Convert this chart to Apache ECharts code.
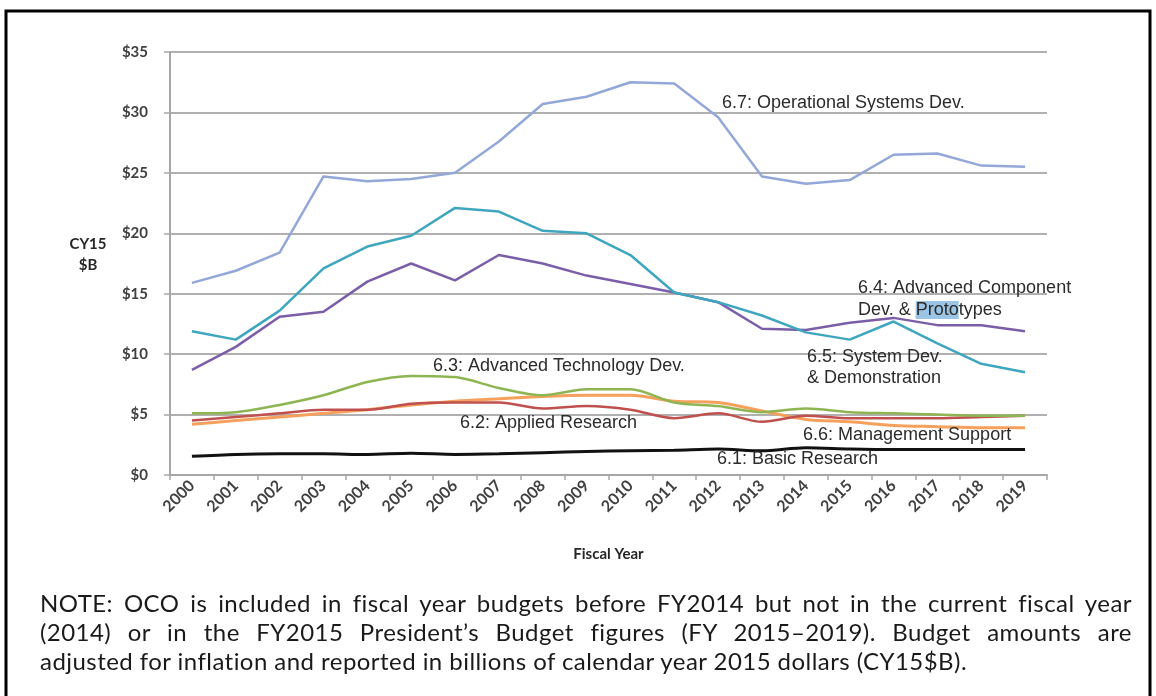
<!DOCTYPE html>
<html>
<head>
<meta charset="utf-8">
<script src="https://cdn.jsdelivr.net/npm/echarts@6/dist/echarts.min.js"></script>
<style>
html,body{margin:0;padding:0;background:#fff;}
#wrap{position:relative;width:1156px;height:696px;overflow:hidden;}
#chart{position:absolute;left:0;top:0;width:1156px;height:696px;}
#note{position:absolute;left:40px;top:588px;width:1092px;font-family:Lato,"Open Sans",sans-serif;font-size:24px;letter-spacing:0.45px;line-height:29px;color:#1a1a1a;}
#note div{white-space:nowrap;}
#note .j{text-align:justify;text-align-last:justify;white-space:normal;}
</style>
</head>
<body>
<div id="wrap">
<div id="chart"></div>
<div id="note">
<div class="j">NOTE: OCO is included in fiscal year budgets before FY2014 but not in the current fiscal year</div>
<div class="j">(2014) or in the FY2015 President’s Budget figures (FY 2015–2019). Budget amounts are</div>
<div>adjusted for inflation and reported in billions of calendar year 2015 dollars (CY15$B).</div>
</div>
</div>
<script>
const years = ['2000','2001','2002','2003','2004','2005','2006','2007','2008','2009','2010','2011','2012','2013','2014','2015','2016','2017','2018','2019'];
const yTicks = [0,5,10,15,20,25,30,35];

const opSystems   = [15.9,16.9,18.4,24.7,24.3,24.5,25.0,27.6,30.7,31.3,32.5,32.4,29.6,24.7,24.1,24.4,26.5,26.6,25.6,25.5];
const sysDev      = [11.9,11.2,13.6,17.1,18.9,19.8,22.1,21.8,20.2,20.0,18.2,15.1,14.3,13.2,11.8,11.2,12.7,10.9,9.2,8.5];
const advComp     = [8.7,10.6,13.1,13.5,16.0,17.5,16.1,18.2,17.5,16.5,15.8,15.1,14.3,12.1,12.0,12.6,13.0,12.4,12.4,11.9];
const advTech     = [5.1,5.2,5.8,6.6,7.7,8.2,8.1,7.2,6.6,7.1,7.1,6.0,5.7,5.2,5.5,5.2,5.1,5.0,4.9,4.9];
const mgmtSupport = [4.2,4.5,4.8,5.1,5.4,5.8,6.1,6.3,6.5,6.6,6.6,6.1,6.0,5.3,4.6,4.4,4.1,4.0,3.9,3.9];
const appliedRes  = [4.5,4.8,5.1,5.4,5.4,5.9,6.0,6.0,5.5,5.7,5.4,4.7,5.1,4.4,4.9,4.7,4.7,4.7,4.8,4.9];
const basicRes    = [1.55,1.7,1.75,1.75,1.7,1.8,1.7,1.75,1.85,1.95,2.0,2.05,2.15,2.0,2.25,2.15,2.1,2.1,2.1,2.1];

const chart = echarts.init(document.getElementById('chart'), null, {renderer:'canvas'});
const lbl = {fontFamily:'Liberation Sans, Arial, sans-serif', fontSize:18, fill:'#2b2b2b'};
function mk(name, data, color, smooth, width){
  return {name, type:'line', data, smooth: smooth||false, symbol:'none',
    lineStyle:{color, width: width||2.5}, itemStyle:{color}, z:3};
}
chart.setOption({
  animation:false,
  backgroundColor:'#ffffff',
  grid:{left:170, right:109, top:52, bottom:221},
  xAxis:{type:'category', data:years, boundaryGap:true,
    axisLine:{lineStyle:{color:'#a6a6a6', width:2}},
    axisTick:{show:true, length:5, lineStyle:{color:'#a6a6a6', width:1.5}},
    axisLabel:{rotate:45, margin:8, color:'#404040', fontFamily:'Lato, Open Sans, sans-serif', fontWeight:'bold', fontSize:16},
    name:'Fiscal Year', nameLocation:'middle', nameGap:72,
    nameTextStyle:{color:'#262626', fontFamily:'Lato, Open Sans, sans-serif', fontWeight:'bold', fontSize:15}
  },
  yAxis:{type:'value', min:yTicks[0], max:yTicks[yTicks.length-1], interval:5,
    axisLine:{show:true, lineStyle:{color:'#a6a6a6', width:2}},
    axisTick:{show:true, length:6, lineStyle:{color:'#a6a6a6', width:1.5}},
    splitLine:{lineStyle:{color:'#b0b0b0', width:2}},
    axisLabel:{margin:22, color:'#404040', fontFamily:'Lato, Open Sans, sans-serif', fontWeight:'bold', fontSize:15,
      formatter:v=>'$'+v}
  },
  graphic:[
    {type:'rect', shape:{x:6, y:11, width:1144, height:720}, style:{fill:'none', stroke:'#000', lineWidth:3}, silent:true},
    {type:'text', x:88, y:244, style:{text:'CY15', font:'bold 15px Lato, sans-serif', fill:'#262626', align:'center', verticalAlign:'middle'}},
    {type:'text', x:88, y:265, style:{text:'$B', font:'bold 15px Lato, sans-serif', fill:'#262626', align:'center', verticalAlign:'middle'}},
    {type:'text', x:722, y:103, style:Object.assign({text:'6.7: Operational Systems Dev.', verticalAlign:'middle'}, lbl), z:10},
    {type:'text', x:858, y:288, style:Object.assign({text:'6.4: Advanced Component', verticalAlign:'middle'}, lbl), z:10},
    {type:'text', x:858, y:310, style:Object.assign({text:'Dev. & {h|Proto}types', verticalAlign:'middle',
      rich:{h:{backgroundColor:'#9cc4e4', fontFamily:'Liberation Sans, Arial, sans-serif', fontSize:18, fill:'#2b2b2b'}}}, lbl), z:10},
    {type:'text', x:807, y:357, style:Object.assign({text:'6.5: System Dev.', verticalAlign:'middle'}, lbl), z:10},
    {type:'text', x:807, y:378, style:Object.assign({text:'& Demonstration', verticalAlign:'middle'}, lbl), z:10},
    {type:'text', x:433, y:366, style:Object.assign({text:'6.3: Advanced Technology Dev.', verticalAlign:'middle'}, lbl), z:10},
    {type:'text', x:460, y:423, style:Object.assign({text:'6.2: Applied Research', verticalAlign:'middle'}, lbl), z:10},
    {type:'text', x:803, y:435, style:Object.assign({text:'6.6: Management Support', verticalAlign:'middle'}, lbl), z:10},
    {type:'text', x:717, y:459, style:Object.assign({text:'6.1: Basic Research', verticalAlign:'middle'}, lbl), z:10}
  ],
  series:[
    mk('6.1: Basic Research', basicRes, '#111111', 0.3, 3),
    mk('6.6: Management Support', mgmtSupport, '#f5a05c', 0.3, 3),
    mk('6.2: Applied Research', appliedRes, '#c0504d', 0.3, 2.5),
    mk('6.3: Advanced Technology Dev.', advTech, '#8db552', 0.3, 2.5),
    mk('6.4: Advanced Component Dev. & Prototypes', advComp, '#7c5ea8', false, 2.5),
    mk('6.5: System Dev. & Demonstration', sysDev, '#3fa6bf', false, 2.5),
    mk('6.7: Operational Systems Dev.', opSystems, '#93a8d8', false, 2.5)
  ]
});
</script>
</body>
</html>
